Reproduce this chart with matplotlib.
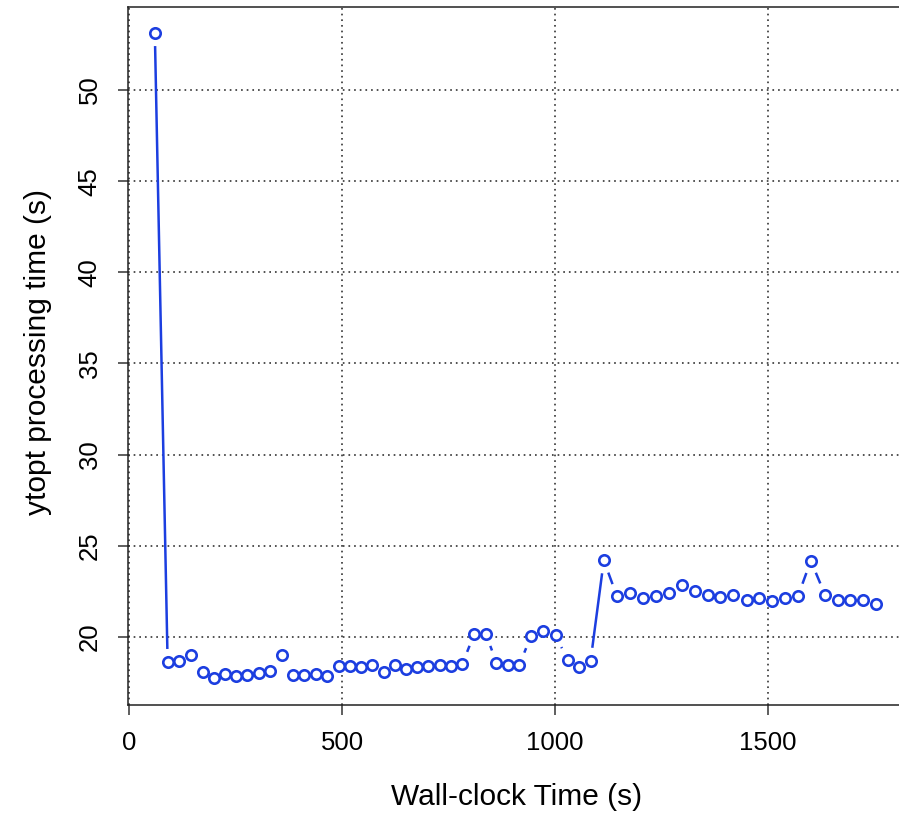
import numpy as np
import matplotlib.pyplot as plt
import matplotlib as mpl

mpl.rcParams['font.family'] = ['Liberation Sans', 'DejaVu Sans']

## Data

wall_time = [60, 90, 117, 145, 172, 200, 225, 251, 277, 304,
             330, 358, 384, 411, 438, 465, 492, 518, 544, 570,
             597, 623, 649, 675, 702, 729, 755, 782, 810, 837,
             862, 890, 916, 943, 972, 1001, 1029, 1055, 1083, 1114,
             1145, 1176, 1206, 1236, 1266, 1297, 1329, 1358, 1387, 1418,
             1449, 1479, 1509, 1539, 1570, 1600, 1634, 1663, 1693, 1723,
             1753]
proc_time = [53.12, 18.63, 18.67, 19.00, 18.08, 17.75, 17.97, 17.86, 17.94, 18.05,
             18.12, 19.00, 17.94, 17.90, 17.97, 17.88, 18.41, 18.41, 18.37, 18.48,
             18.08, 18.48, 18.23, 18.37, 18.41, 18.45, 18.43, 18.52, 20.18, 20.18,
             18.59, 18.45, 18.48, 20.05, 20.35, 20.09, 18.74, 18.34, 18.70, 24.20,
             22.23, 22.39, 22.15, 22.26, 22.39, 22.85, 22.52, 22.30, 22.19, 22.32,
             22.01, 22.12, 21.99, 22.12, 22.25, 24.18, 22.28, 22.05, 22.05, 22.03,
             21.81]

xticks = [0, 500, 1000, 1500]
yticks = [20, 25, 30, 35, 40, 45, 50]
color = '#1c3ee0'

## Plotting

W, H = 899, 813
fig = plt.figure(figsize=(W / 100, H / 100), dpi=100)
ax = fig.add_axes([128 / W, 1 - 705 / H, 1 - 128 / W, (705 - 7) / H])
ax.set_xlim(-3, 1807)
ax.set_ylim(16.27, 54.55)

for v in xticks:
    ax.axvline(v, color='#222222', lw=1.1, dashes=(1.1, 2.6), zorder=1)
for v in yticks:
    ax.axhline(v, color='#222222', lw=1.1, dashes=(1.1, 2.6), zorder=1)

# R type="b": segments with a gap around each point
gap = 13
pts = ax.transData.transform(np.column_stack([wall_time, proc_time]))
inv = ax.transData.inverted()
for p, q in zip(pts[:-1], pts[1:]):
    d = q - p
    L = np.hypot(*d)
    if L <= 2 * gap:
        continue
    u = d / L
    seg = inv.transform(np.array([p + u * gap, q - u * gap]))
    ax.plot(seg[:, 0], seg[:, 1], color=color, lw=1.8, solid_capstyle='butt', zorder=2)

ax.plot(wall_time, proc_time, 'o', ms=7.5, mfc='white', mec=color, mew=1.9, zorder=3)

ax.spines['right'].set_visible(False)
for s in ['left', 'bottom', 'top']:
    ax.spines[s].set_linewidth(1.1)
    ax.spines[s].set_color('#222222')

ax.set_xticks(xticks)
ax.set_yticks(yticks)
ax.tick_params(direction='out', length=7, width=1.1, color='#333333', labelsize=18.5, pad=12)
ax.tick_params(axis='y', labelrotation=90)
for lab in ax.get_yticklabels():
    lab.set_va('center')

ax.set_xlabel('Wall-clock Time (s)', fontsize=21.5, va='center')
ax.set_ylabel('ytopt processing time (s)', fontsize=21.5, va='center')
ax.xaxis.set_label_coords((517 - 128) / (W - 128), -(797 - 705) / (705 - 7))
ax.yaxis.set_label_coords(-(128 - 38) / (W - 128), (705 - 352) / (705 - 7))

fig.savefig('out.png', dpi=100)
